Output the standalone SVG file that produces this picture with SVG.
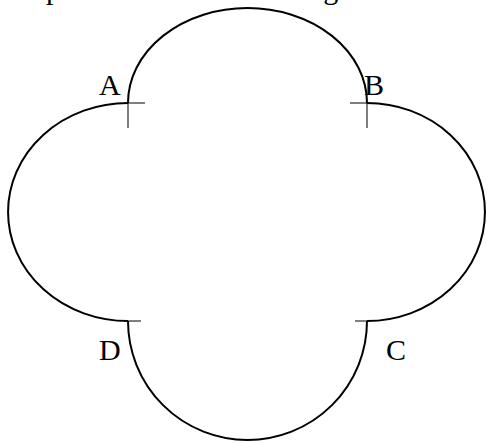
<svg xmlns="http://www.w3.org/2000/svg" width="487" height="443" viewBox="0 0 487 443">
<style>
.c{fill:none;stroke:#000;stroke-width:2}
.t{stroke:#000;stroke-width:1}
text{font-family:"Liberation Serif","Times New Roman",serif;font-size:30px;fill:#000}
</style>
<rect width="487" height="443" fill="#fff"/>
<text x="6" y="-1.5">shape of the arc. In the diagram are here</text>
<g id="connectors">
<path id="top" class="c" d="M128,103 A119.5,95 0 0 1 367,103"/>
<path id="left" class="c" d="M128,103 A120,109 0 0 0 128,321"/>
<path id="bottom" class="c" d="M128,321 A119.5,119 0 0 0 367,321"/>
<path id="right" class="c" d="M367,103 A118,109 0 0 1 367,321"/>
<path class="t" d="M128,103V128M128,103H145M367,103V128M367,103H350M128,321H141M367,321H355"/>
</g>
<g id="A"><text x="99" y="95">A</text></g>
<g id="B"><text x="364" y="95">B</text></g>
<g id="C"><text x="386" y="360">C</text></g>
<g id="D"><text x="99" y="360">D</text></g>
</svg>
